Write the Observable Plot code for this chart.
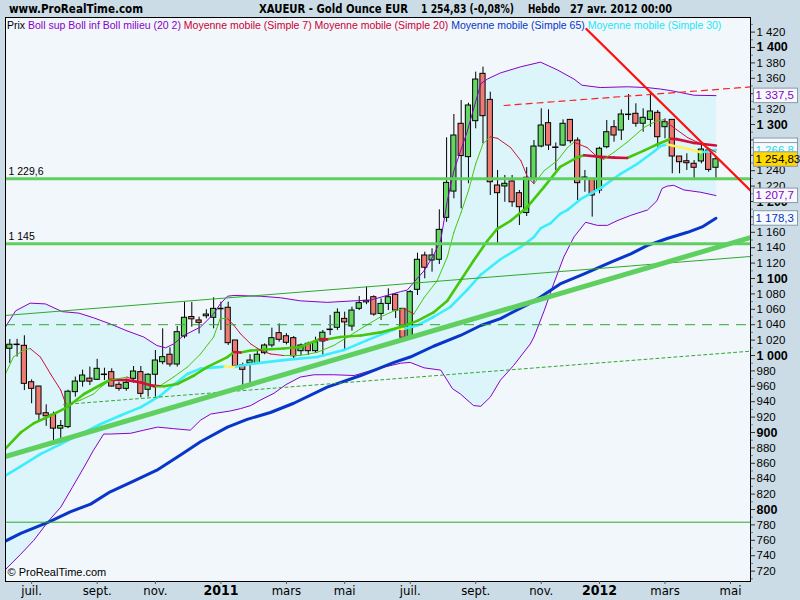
<!DOCTYPE html>
<html>
<head>
<meta charset="utf-8">
<script src="https://cdn.jsdelivr.net/npm/d3@7"></script>
<script src="https://cdn.jsdelivr.net/npm/@observablehq/plot@0.6"></script>
<style>
  html, body { margin: 0; padding: 0; background: #ccdce6; }
  #chart svg { display: block; }
</style>
</head>
<body>
<div id="chart"></div>
<script>
// ---------------- DATA ----------------
const firstMonday = "2010-06-14"; // weekly candles (Mondays)
const opens = [1008.7,1014,1012.6,965.3,959.7,925,923,905,907,952.4,
  966,970,968.4,975,978.4,962,956.7,969.7,978.4,955.5,
  975,991.3,1001,988.3,1024.7,1050,1045.5,1051,1049,1060.6,
  1062,1019.5,987,989.6,990,1003,1013,1029,1025,1022.5,
  1005.6,1015.2,1005.6,1018.2,1033,1036,1047.6,1037.7,1060.6,1069,
  1075.7,1054,1067,1078.8,1060.6,1023.8,1085.3,1129.9,1123.4,1124.3,
  1178.8,1212.9,1300.9,1257.6,1304.3,1365.8,1332,1220.8,1219.5,1226,
  1210.8,1185,1229.5,1271.4,1301.7,1269.7,1272.7,1306,1279.2,1230.8,
  1229.5,1214.3,1270.5,1296.5,1292.2,1312.6,1313.9,1301,1306,1315.2,
  1296.5,1306,1258.4,1252.3,1249,1252,1266.2,1243.8];
const highs = [1020.8,1021,1025.6,968.4,960,936,926.4,915.6,955,972,
  981,985,995,983.5,982.7,965.3,969.7,985.7,985.7,976.3,
  1006.5,1034.6,1010,1037.7,1069.3,1069,1049.8,1059.4,1075,1069.3,
  1069.3,1019.5,990,1001,1008.7,1015,1035.5,1041,1028.4,1024.7,
  1015,1017.3,1023.8,1032.5,1052,1060.6,1056.3,1062.8,1076.6,1089,
  1077.5,1073.6,1086.6,1080,1060.6,1084.4,1132.9,1134.2,1138.6,1189.2,
  1282.7,1313,1331.2,1327.7,1368,1374.5,1342,1240.3,1233.8,1233.8,
  1214.3,1244,1279.2,1320.4,1319,1276,1306,1306,1282.7,1240.3,
  1229.5,1270.5,1305.2,1305.2,1319,1339,1326.9,1320.4,1342,1318.2,
  1307.4,1306,1258.4,1262,1253.2,1272.7,1268.5,1257.5];
const lows = [989.6,998,954.5,937.3,915.6,908,889.6,892,905,946,
  959,961,967.5,967.5,959,953.6,953.6,964,945,946,
  946,988,985,985,1021.7,1036.7,1028,1047.6,1034.6,1032.5,
  1013,985,955,962,989,1001,1010,1017.3,1013.8,995.5,
  1000,1000,1002.6,997.8,1026,1032.5,1006.5,1031.6,1058.4,1066,
  1051,1045.5,1058.4,1048,1021.7,1021.7,1077.9,1099.6,1108.2,1118.2,
  1173,1203.5,1190.5,1223,1294.4,1275,1207.8,1145.8,1199,1192.6,
  1168.8,1180.5,1223,1269.7,1266.2,1240,1271.4,1275,1201.3,1212,
  1179.7,1210,1268.5,1277,1279.2,1305.2,1296.5,1290,1296.5,1270.5,
  1281.4,1236,1236,1240.3,1227.3,1249,1238,1229.5];
const closes = [1014,1014.5,963.2,956.7,923.4,921,905,908.5,953,966.2,
  974,966,982.7,975.6,959.7,956.7,964.5,979.2,950.2,975,
  993.5,997.8,988.3,1030.3,1049,1047,1042.4,1053.2,1060.6,1061,
  1016,985.7,981.4,993.5,1001,1013,1022.5,1020.4,1016.5,999,
  1013,1005.6,1017.3,1029.6,1034,1055.5,1043,1058.4,1068,1071,
  1053.2,1067,1075.7,1058.4,1023,1082.3,1124.3,1114,1129.9,1163.2,
  1224.2,1285.7,1259,1324.7,1358.4,1310.8,1225,1210.8,1223,1199,
  1192.6,1230.8,1271.4,1298.7,1272.7,1270.5,1300.9,1278.3,1223.8,1231.5,
  1207.8,1268.5,1290,1285.7,1313,1313.2,1301,1308.7,1316.9,1283.5,
  1303,1258.4,1251,1249.7,1243.8,1267.5,1241,1254.83];

// indicator lines: [week index from first candle, value]
const bbUpper = [[-0.6,1037],[0.8,1058],[2.8,1068],[4.9,1067],[7.2,1057],[9.5,1055],[11.5,1049],[13.8,1041],[16.1,1032],[18.4,1024],[20.2,1013],[21.4,1010],[22.5,1015],[23.9,1026],[26.2,1037],[28,1054],[28.9,1067],[29.9,1077],[30.8,1078],[34.4,1077],[37.2,1075],[39.9,1071],[43.6,1069],[47.3,1071],[49.6,1072],[51.8,1078],[53.7,1083],[54.6,1085],[55.5,1095],[56.9,1110],[58.2,1130],[59.2,1150],[60.1,1201],[61,1240],[62.8,1290],[64.7,1353],[65.6,1359],[67.4,1367],[70.2,1375],[72.9,1381],[75.2,1371],[77.5,1359],[78.6,1351],[81.1,1348],[84.8,1349],[87.5,1348],[89.4,1346],[90.8,1344],[94,1338],[97,1337.5]];
const bbLower = [[-0.6,722],[1.5,742],[3.3,760],[5.4,786],[7,803],[8.6,829],[10.2,855],[11.5,877],[12.9,898],[13.8,898],[16.6,899],[18.4,903],[20.3,907],[22.5,905],[24.8,903],[26.2,916],[27.6,924],[30.3,928],[31.7,931],[33.1,935],[34.4,942],[36.3,951],[37.9,962],[39.9,972],[41.8,975],[44.5,975],[47.3,974],[50.5,983],[53.7,990],[55,991],[56.9,984],[59.2,981],[60.8,957],[61.9,950],[63.7,935],[64.7,934],[66,946],[67.4,968],[69.2,987],[71.5,1015],[72,1024],[73.4,1058],[74.7,1093],[76.1,1128],[77.5,1154],[79.1,1173],[80.7,1169],[82.1,1169],[83.4,1175],[85.3,1182],[87.6,1189],[88.9,1201],[89.6,1217],[90.3,1220],[91.2,1221],[92.6,1215],[94.9,1212],[97,1207.7]];
const ma65 = [[-0.6,759],[1.5,769],[5.4,784],[8.3,797],[11.1,807],[13.8,823],[17,837],[20.2,851],[23.5,871],[26.2,888],[29.9,907],[32.6,917],[35.8,926],[39,938],[43.6,959],[48.2,974],[52.8,991],[55,998],[58.2,1012],[61.9,1026],[64.7,1039],[67.4,1048],[71.1,1066],[72.9,1076],[75.6,1093],[78.9,1106],[82.5,1121],[85.3,1132],[87.6,1143],[90.3,1152],[93.1,1160],[95.1,1167],[97,1178.3]];
const ma30 = [[-0.6,844],[1.5,856],[4.2,872],[7,885],[9.7,898],[12.5,911],[15.2,922],[18,933],[20.7,948],[22.5,962],[24.4,976],[26.2,983],[29.5,985.5],[30.8,985],[33.1,989],[37.6,994],[42.2,998],[45.9,1007],[49.1,1020],[51.8,1030],[53.2,1035],[54,1034.5],[56,1039],[58.2,1050],[60.5,1063],[62.8,1085],[64.7,1105],[67.4,1125],[70.2,1141],[72,1154],[72.9,1165],[74.3,1172],[75.6,1184],[76.6,1189],[78.4,1203],[81.1,1217],[83.9,1236],[86.2,1249],[88.5,1265],[89.4,1272],[90.3,1274],[93.1,1268.5],[94.9,1264],[96,1265],[97,1266.8]];
const ma20 = [[-0.6,879],[1.5,900],[3.3,912],[5.6,922],[7.9,933],[10.2,950],[12.5,962],[13.8,968.5],[16.1,968],[18,965],[19.8,960],[21.2,960],[23,963],[25.3,974],[27.1,985],[29.9,998],[30.8,1004.5],[31.7,1004],[33.1,1006.5],[37.6,1009],[39.9,1011],[42.6,1021.5],[43.6,1021],[45.4,1024],[48.2,1026],[50.9,1030],[53.7,1037],[56,1045],[58.2,1056],[60.1,1071],[61.9,1097],[63.7,1123],[65.6,1149],[66.9,1164],[68.8,1175],[71.1,1193],[73.4,1219],[75.6,1245],[77.9,1257],[78.9,1260],[81.1,1258],[83,1257],[84.8,1256.5],[87.1,1266],[88.9,1274],[90.8,1281.5],[91.6,1281],[94,1276],[97,1272.7]];
const ma7 = [[-0.6,976],[0.5,998],[1.9,1007],[2.8,1009],[4.2,998],[5.6,976],[7,955],[7.7,937],[8.3,937.5],[9.7,942],[11.5,950],[12.5,959],[13.8,968],[16.1,972],[18.4,963],[20.7,961],[22.5,972],[24.4,985],[26.2,1002],[28,1024],[28.9,1048],[29.9,1048],[30.8,1039],[31.7,1028],[33.1,1015],[34.4,1007],[35.8,1002],[37.6,1000],[39.9,1000],[42.2,1004],[44.5,1013],[46.4,1024],[48.6,1037],[50.9,1050],[52.8,1058],[54.1,1061],[55.5,1054],[56.9,1075],[58.7,1097],[60.1,1128],[61,1160],[62,1186],[63,1214],[64,1249],[65,1275],[66,1284],[67,1282],[68.8,1270],[70.2,1253],[71.1,1232],[72,1223],[73.4,1240],[75.2,1253],[76.6,1270],[77.5,1277],[79.3,1270],[80.7,1258],[81.6,1255],[83,1264],[84.8,1277],[87.1,1296],[88.9,1305],[89.8,1306],[91.2,1296],[93.1,1283],[94.9,1275],[97,1264]];

// hand-drawn levels and trend lines
const hLevels = [1229.6, 1145];
const hLevelLabels = ["1 229,6", "1 145"];
const dashedLevel = [1040];
const lowLevel = [783.5];
const trendThick = [[-0.6, 868.8], [101.74, 1153.2]];
const trendThin = [[-0.6, 1052], [101.74, 1128.6]];
const trendDotted = [[7.4, 936.4], [101.74, 1005.6]];
const trendRed = [[79.2, 1424], [101.74, 1214.3]];
const trendRedDashed = [[67.9, 1324.7], [101.74, 1348.8]];

// axis ticks and labels (labels hidden under the value tags are left out)
const monthTicks = ["2010-07-05","2010-09-06","2010-11-01","2011-03-07","2011-05-02","2011-07-04","2011-09-05","2011-11-07","2012-03-05","2012-05-07"];
const monthLabels = ["juil.","sept.","nov.","mars","mai","juil.","sept.","nov.","mars","mai"];
const yearTicks = ["2011-01-03","2012-01-02"];
const yearLabels = ["2011","2012"];
const yTicksNormal = [720,740,760,780,820,840,860,880,920,940,960,980,1020,1040,1060,1080,1120,1140,1160,1220,1240,1320,1360,1380,1420];
const yTicksCovered = [1180,1260,1280,1340];
const yTicksBold = [800,900,1000,1100,1200,1300,1400];
const yTicksMinor = [710,730,750,770,790,810,830,850,870,890,910,930,950,970,990,1010,1030,1050,1070,1090,1110,1130,1150,1170,1190,1210,1230,1250,1270,1290,1310,1330,1350,1370,1390,1410,1430];

const headerSite = "www.ProRealTime.com";
const headerParts = ["XAUEUR - Gold Ounce EUR", "1 254,83 (-0,08%)", "Hebdo", "27 avr. 2012 00:00"];
const legendItems = ["Prix", "Boll sup Boll inf Boll milieu (20 2)", "Moyenne mobile (Simple 7)", "Moyenne mobile (Simple 20)", "Moyenne mobile (Simple 65)", "Moyenne mobile (Simple 30)"];

// ---------------- STYLE ----------------
const narrow = "'Liberation Sans Narrow', 'Arial Narrow', 'DejaVu Sans Condensed', sans-serif";
const sans = "'Liberation Sans', Arial, sans-serif";
const C = {
  up: "#62d862", down: "#ee7b72", purple: "#8a00c8", blue: "#0836c8", cyan: "#3ceefc",
  yellow: "#fff060", green: "#46c80a", red: "#d0103a", level: "#5fd05f", thin: "#2fa82f"
};
const legendColors = ["#000", C.purple, "#cc0033", "#cc0033", C.blue, "#22e6f6"];

// ---------------- BUILD ----------------
const DAY = 864e5;
const t0 = Date.parse(firstMonday + "T00:00:00Z");
const wDate = w => new Date(t0 + w * 7 * DAY);
const pDate = s => new Date(s + "T00:00:00Z");
const pts = arr => arr.map(([w, v]) => ({d: wDate(w), v}));
const segs = arr => d3.pairs(arr).map(([a, b]) => ({x1: wDate(a[0]), y1: a[1], x2: wDate(b[0]), y2: b[1], up: b[1] >= a[1]}));

const candles = opens.map((o, i) => ({d: wDate(i), o, h: highs[i], l: lows[i], c: closes[i]}));
const isDoji = d => Math.abs(d.c - d.o) < 1.5;
const ups = candles.filter(d => !isDoji(d) && d.c > d.o);
const downs = candles.filter(d => !isDoji(d) && d.c < d.o);
const dojis = candles.filter(isDoji);
const half = 2.5 * DAY;
const bx1 = d => new Date(+d.d - half), bx2 = d => new Date(+d.d + half);

const bbPoly = pts(bbUpper).concat(pts(bbLower).reverse());
const s7 = segs(ma7), s20 = segs(ma20), s30 = segs(ma30);

const fmt = d3.formatLocale({decimal: ",", thousands: " ", grouping: [3], currency: ["", ""]});
const f0 = fmt.format(",d"), f1 = fmt.format(",.1f"), f2 = fmt.format(",.2f");
const monthMap = new Map(monthTicks.map((s, i) => [+pDate(s), monthLabels[i]]));
const yearMap = new Map(yearTicks.map((s, i) => [+pDate(s), yearLabels[i]]));

const linkOpts = (extra) => Object.assign({x1: "x1", y1: "y1", x2: "x2", y2: "y2", strokeLinecap: "round", clip: "frame"}, extra);

const plot = Plot.plot({
  width: 800, height: 600,
  marginTop: 17, marginBottom: 19, marginLeft: 5, marginRight: 50,
  style: {background: "transparent", fontFamily: sans, overflow: "visible"},
  x: {type: "utc", domain: [wDate(-0.5907), wDate(101.745)]},
  y: {domain: [706.5, 1438.96]},
  marks: [
    Plot.frame({fill: "#f1f7fb", stroke: null}),
    Plot.line(bbPoly, {x: "d", y: "v", fill: "#dcf5fa", stroke: "none", clip: "frame"}),
    // candles
    Plot.ruleX(candles, {x: "d", y1: "l", y2: "h", stroke: "#000", strokeWidth: 1}),
    Plot.rect(ups, {x1: bx1, x2: bx2, y1: "o", y2: "c", fill: C.up, stroke: "#000", strokeWidth: 1}),
    Plot.rect(downs, {x1: bx1, x2: bx2, y1: "o", y2: "c", fill: C.down, stroke: "#000", strokeWidth: 1}),
    Plot.ruleY(dojis, {y: "c", x1: d => new Date(+d.d - 3 * DAY), x2: d => new Date(+d.d + 3 * DAY), stroke: "#000", strokeWidth: 1.5}),
    // indicators
    Plot.line(pts(bbUpper), {x: "d", y: "v", stroke: C.purple, strokeWidth: 1, clip: "frame"}),
    Plot.line(pts(bbLower), {x: "d", y: "v", stroke: C.purple, strokeWidth: 1, clip: "frame"}),
    Plot.line(pts(ma65), {x: "d", y: "v", stroke: C.blue, strokeWidth: 3, clip: "frame"}),
    Plot.link(s30.filter(d => d.up), linkOpts({stroke: C.cyan, strokeWidth: 2.6})),
    Plot.link(s30.filter(d => !d.up), linkOpts({stroke: C.yellow, strokeWidth: 2.6})),
    Plot.link(s20.filter(d => d.up), linkOpts({stroke: C.green, strokeWidth: 2.6})),
    Plot.link(s20.filter(d => !d.up), linkOpts({stroke: C.red, strokeWidth: 2.6})),
    Plot.link(s7.filter(d => d.up), linkOpts({stroke: C.green, strokeWidth: 1})),
    Plot.link(s7.filter(d => !d.up), linkOpts({stroke: C.red, strokeWidth: 1})),
    // hand-drawn objects
    Plot.ruleY(dashedLevel, {stroke: C.thin, strokeWidth: 1, strokeDasharray: "10,7"}),
    Plot.ruleY(lowLevel, {stroke: C.thin, strokeWidth: 1}),
    Plot.line(pts(trendDotted), {x: "d", y: "v", stroke: C.thin, strokeWidth: 1, strokeDasharray: "3,3", clip: "frame"}),
    Plot.line(pts(trendThin), {x: "d", y: "v", stroke: C.thin, strokeWidth: 1, clip: "frame"}),
    Plot.line(pts(trendThick), {x: "d", y: "v", stroke: C.level, strokeWidth: 5, clip: "frame"}),
    Plot.ruleY(hLevels, {stroke: C.level, strokeWidth: 3}),
    Plot.line(pts(trendRedDashed), {x: "d", y: "v", stroke: "#ff2020", strokeWidth: 1.2, strokeDasharray: "6,5", clip: "frame"}),
    Plot.line(pts(trendRed), {x: "d", y: "v", stroke: "#ff1010", strokeWidth: 2.3, clip: "frame"}),
    Plot.text(hLevels, {y: d => d, text: (d, i) => hLevelLabels[i], frameAnchor: "left", dx: 3, dy: -7, textAnchor: "start", fontSize: 10.5, fill: "#000"}),
    Plot.text(["© ProRealTime.com"], {text: d => d, frameAnchor: "bottom-left", dx: 2, dy: -6, textAnchor: "start", fontSize: 11, fill: "#000"}),
    Plot.frame({stroke: "#000"}),
    // axes
    Plot.axisY(yTicksMinor, {anchor: "right", tickSize: 2, tickFormat: () => "", stroke: "#6b7b88", label: null}),
    Plot.axisY(yTicksCovered, {anchor: "right", tickSize: 4, tickFormat: () => "", stroke: "#333", label: null}),
    Plot.axisY(yTicksNormal, {anchor: "right", tickSize: 4, tickPadding: 2, tickFormat: f0, fontSize: 11.5, stroke: "#333", label: null}),
    Plot.axisY(yTicksBold, {anchor: "right", tickSize: 4, tickPadding: 2, tickFormat: f0, fontSize: 12.5, fontWeight: "bold", stroke: "#333", label: null}),
    Plot.axisX(monthTicks.map(pDate), {anchor: "bottom", tickSize: 3, tickPadding: 1, tickFormat: d => monthMap.get(+d), fontSize: 13, fontFamily: narrow, stroke: "#555", label: null}),
    Plot.axisX(yearTicks.map(pDate), {anchor: "bottom", tickSize: 3, tickPadding: 1, tickFormat: d => yearMap.get(+d), fontSize: 14, fontWeight: "bold", fontFamily: narrow, stroke: "#555", label: null})
  ]
});
document.getElementById("chart").appendChild(plot);

// ---------------- OVERLAYS (text positioned with the plot's scales) ----------------
const svg = d3.select(plot);
const yS = plot.scale("y");

// header
const hdr = svg.append("g").attr("font-family", narrow).attr("font-weight", "bold").attr("font-size", 12)
  .attr("fill", "#000").attr("text-anchor", "start");
const hdrItems = [[headerSite, 9, 134], [headerParts[0], 259, 149], [headerParts[1], 421, 93], [headerParts[2], 528, 32], [headerParts[3], 570, 102]];
hdrItems.forEach(([t, x, w]) => hdr.append("text").attr("x", x).attr("y", 9).attr("dy", "0.35em")
  .attr("textLength", w).attr("lengthAdjust", "spacingAndGlyphs").text(t));

// legend line inside the frame
const lg = svg.append("text").attr("x", 7).attr("y", 25).attr("dy", "0.35em").attr("text-anchor", "start")
  .attr("font-family", sans).attr("font-size", 10.5);
legendItems.forEach((t, i) => lg.append("tspan").attr("fill", legendColors[i]).text((i ? " " : "") + t));

// last-value tags on the price axis
const last = a => a[a.length - 1][1];
const tags = [
  {v: last(bbUpper), label: f1(last(bbUpper)), color: C.purple, bg: "#f7fafd"},
  {v: last(ma20), label: "", color: "#cc0033", bg: "#f7fafd"},
  {v: last(ma30), label: f1(last(ma30)), color: "#22d8f0", bg: "#f7fafd"},
  {v: closes[closes.length - 1], label: f2(closes[closes.length - 1]), color: "#000", bg: "#ffd900"},
  {v: last(bbLower), label: f1(last(bbLower)), color: C.purple, bg: "#f7fafd"},
  {v: last(ma65), label: f1(last(ma65)), color: C.blue, bg: "#f7fafd"}
];
const tg = svg.append("g").attr("font-family", sans).attr("font-size", 11.5).attr("text-anchor", "start");
tags.forEach(t => {
  const yy = yS.apply(t.v);
  tg.append("rect").attr("x", 753.5).attr("y", yy - 7).attr("width", 44).attr("height", 14.5)
    .attr("fill", t.bg).attr("stroke", "#8a9aa8");
  if (t.label) tg.append("text").attr("x", 755.5).attr("y", yy).attr("dy", "0.36em").attr("fill", t.color).text(t.label);
});
</script>
</body>
</html>
